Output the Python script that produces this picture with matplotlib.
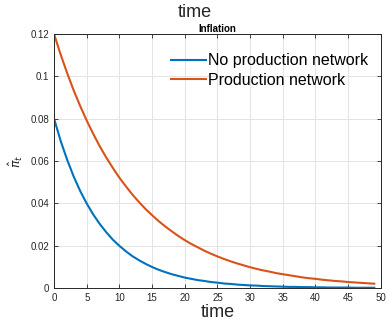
import numpy as np
import matplotlib.pyplot as plt

plt.rcParams['font.family'] = ['Liberation Sans', 'DejaVu Sans']

t = np.arange(0, 50)
no_network = [0.0800, 0.0696, 0.0606, 0.0527, 0.0458, 0.0399, 0.0347, 0.0302, 0.0263, 0.0228,
              0.0199, 0.0173, 0.0150, 0.0131, 0.0114, 0.0099, 0.0086, 0.0075, 0.0065, 0.0057,
              0.0049, 0.0043, 0.0037, 0.0033, 0.0028, 0.0025, 0.0021, 0.0019, 0.0016, 0.0014,
              0.0012, 0.0011, 0.0009, 0.0008, 0.0007, 0.0006, 0.0005, 0.0005, 0.0004, 0.0004,
              0.0003, 0.0003, 0.0002, 0.0002, 0.0002, 0.0002, 0.0001, 0.0001, 0.0001, 0.0001]
network = [0.1200, 0.1104, 0.1016, 0.0934, 0.0860, 0.0791, 0.0728, 0.0669, 0.0616, 0.0567,
           0.0521, 0.0480, 0.0441, 0.0406, 0.0373, 0.0344, 0.0316, 0.0291, 0.0268, 0.0246,
           0.0226, 0.0208, 0.0192, 0.0176, 0.0162, 0.0149, 0.0137, 0.0126, 0.0116, 0.0107,
           0.0098, 0.0090, 0.0083, 0.0077, 0.0070, 0.0065, 0.0060, 0.0055, 0.0050, 0.0046,
           0.0043, 0.0039, 0.0036, 0.0033, 0.0031, 0.0028, 0.0026, 0.0024, 0.0022, 0.0020]

fig = plt.figure(figsize=(3.89, 3.25), dpi=100)
ax = fig.add_axes([0.139, 0.114, 0.840, 0.781])

ax.plot(t, no_network, color='#0072BD', lw=1.5, label='No production network')
ax.plot(t, network, color='#D95319', lw=1.5, label='Production network')

ax.set_xlim(0, 50)
ax.set_ylim(0, 0.12)
ax.set_xticks(np.arange(0, 51, 5))
ax.set_yticks([0, 0.02, 0.04, 0.06, 0.08, 0.1, 0.12])
ax.set_yticklabels(['0', '0.02', '0.04', '0.06', '0.08', '0.1', '0.12'])
ax.tick_params(direction='in', top=True, right=True, labelsize=7, labelcolor='#262626',
               length=3, width=0.6, color='#262626')
for s in ax.spines.values():
    s.set_color('#262626')
    s.set_linewidth(0.7)
ax.grid(True, color='#e3e3e3', lw=0.7)
ax.set_axisbelow(True)

ax.set_title('Inflation', fontsize=7, fontweight='bold', pad=1.5)
fig.text(0.5, 0.962, 'time', ha='center', va='center', fontsize=13, color='#262626')
ax.set_xlabel('time', fontsize=13, color='#262626', labelpad=1)
ax.set_ylabel(r'$\hat{\pi}_t$', fontsize=9, color='#262626', labelpad=4)

ax.legend(loc='upper right', frameon=False, fontsize=11.5, handlelength=2.2,
          handletextpad=0.15, labelspacing=0.3, borderaxespad=0.8,
          bbox_to_anchor=(1.02, 1.0))

plt.savefig('out.png', dpi=100)
